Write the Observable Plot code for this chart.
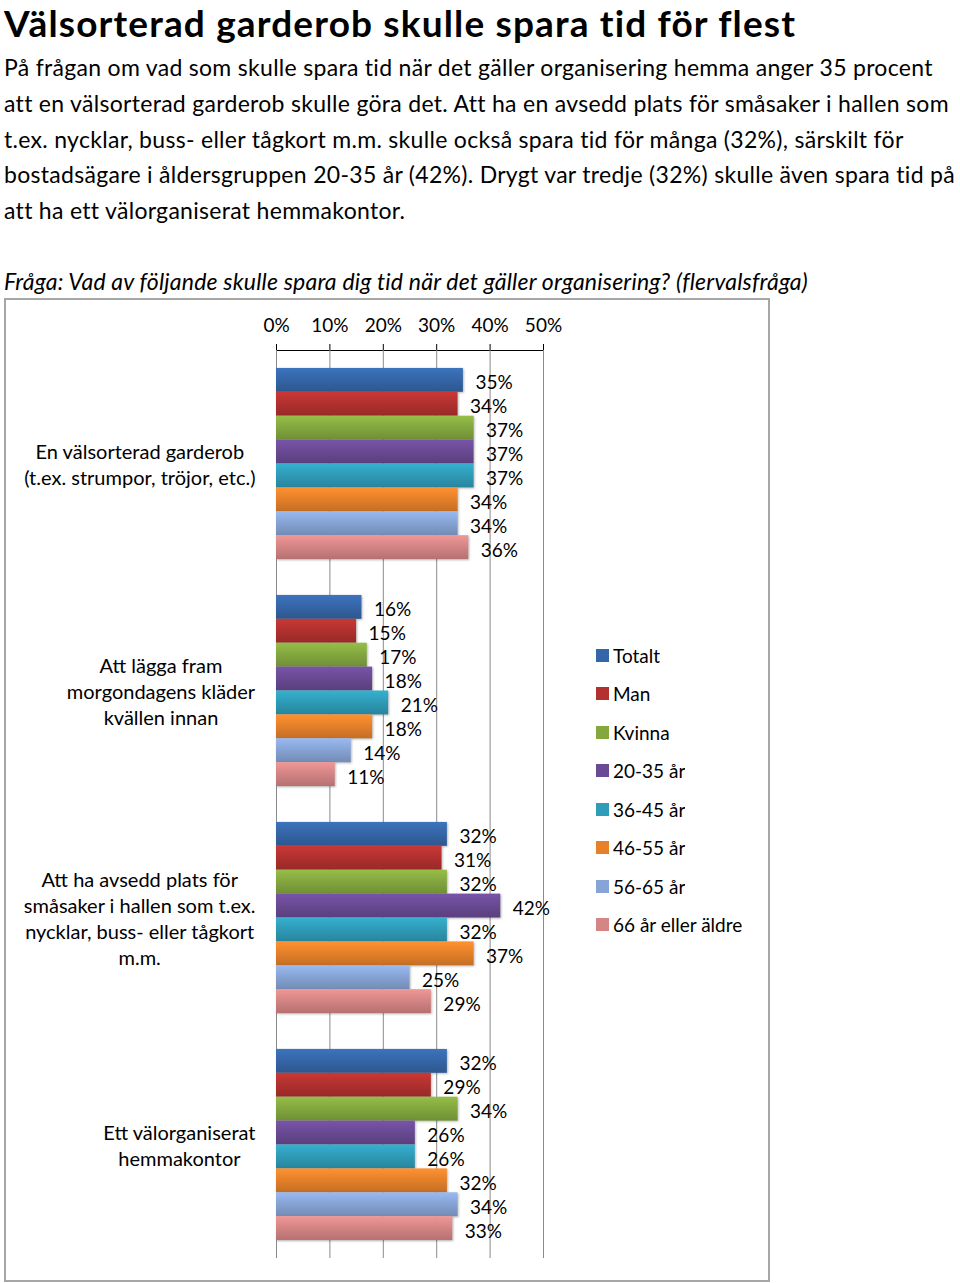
<!DOCTYPE html>
<html>
<head>
<meta charset="utf-8">
<script src="https://cdn.jsdelivr.net/npm/d3@7"></script>
<script src="https://cdn.jsdelivr.net/npm/@observablehq/plot@0.6"></script>
<style>
  html, body { margin: 0; padding: 0; background: #fff; }
  body { width: 960px; height: 1283px; position: relative; overflow: hidden; font-family: Lato, "Open Sans", sans-serif; color: #000; }
  .title { position: absolute; left: 4px; top: 0px; font-weight: 700; font-size: 37px; letter-spacing: 1.15px; line-height: 45px; white-space: nowrap; }
  .body { position: absolute; left: 4px; top: 50px; font-size: 23px; letter-spacing: 0.3px; line-height: 35.75px; white-space: nowrap; }
  .question { position: absolute; left: 4px; top: 263px; font-size: 23px; letter-spacing: 0.2px; line-height: 36px; font-style: italic; white-space: nowrap; }
  .frame { position: absolute; left: 4px; top: 298px; width: 766px; height: 984px; box-sizing: border-box; border: 2px solid #a6a6a6; }
  #chart { position: absolute; left: 0; top: 298px; }
  #legend { position: absolute; left: 596px; top: 636px; }
  .lg-swatches { font-family: Lato, sans-serif !important; font-size: 19px !important; margin: 0 !important; color: #000; }
  .lg-swatch { height: 38.5px; padding-bottom: 0 !important; display: flex; align-items: center; }
  .lg-swatch svg { margin-right: 4px !important; }
  #chart g[aria-label="bar"] rect { filter: drop-shadow(1.5px 1.5px 1px rgba(0,0,0,0.28)); }
</style>
</head>
<body>
<svg width="0" height="0" style="position:absolute"><defs id="gdefs"></defs></svg>
<div class="title">Välsorterad garderob skulle spara tid för flest</div>
<div class="body">På frågan om vad som skulle spara tid när det gäller organisering hemma anger 35 procent<br>att en välsorterad garderob skulle göra det. Att ha en avsedd plats för småsaker i hallen som<br>t.ex. nycklar, buss- eller tågkort m.m. skulle också spara tid för många (32%), särskilt för<br>bostadsägare i åldersgruppen 20-35 år (42%). Drygt var tredje (32%) skulle även spara tid på<br>att ha ett välorganiserat hemmakontor.</div>
<div class="question">Fråga: Vad av följande skulle spara dig tid när det gäller organisering? (flervalsfråga)</div>
<div class="frame"></div>
<div id="chart"></div>
<div id="legend"></div>
<script>
const categories = [
  "En välsorterad garderob\n(t.ex. strumpor, tröjor, etc.)",
  "Att lägga fram\nmorgondagens kläder\nkvällen innan",
  "Att ha avsedd plats för\nsmåsaker i hallen som t.ex.\nnycklar, buss- eller tågkort\nm.m.",
  "Ett välorganiserat\nhemmakontor"
];
const series = ["Totalt", "Man", "Kvinna", "20-35 år", "36-45 år", "46-55 år", "56-65 år", "66 år eller äldre"];
const colors = ["#3566a8", "#b2312f", "#84a83f", "#6a4a94", "#2f9cb8", "#e6812a", "#87a4d6", "#d58585"];
const valuesGarderob = [35, 34, 37, 37, 37, 34, 34, 36];
const valuesKlader = [16, 15, 17, 18, 21, 18, 14, 11];
const valuesHallen = [32, 31, 32, 42, 32, 37, 25, 29];
const valuesKontor = [32, 29, 34, 26, 26, 32, 34, 33];
const ticks = [0, 10, 20, 30, 40, 50];

const allValues = [valuesGarderob, valuesKlader, valuesHallen, valuesKontor];
const rows = [];
categories.forEach((c, ci) => series.forEach((s, si) => rows.push({category: c, series: s, value: allValues[ci][si]})));

// vertical gradients to imitate the shaded bars
const defs = d3.select("#gdefs");
colors.forEach((c, i) => {
  const g = defs.append("linearGradient").attr("id", "grad" + i).attr("x1", 0).attr("y1", 0).attr("x2", 0).attr("y2", 1);
  g.append("stop").attr("offset", "0%").attr("stop-color", d3.color(c).brighter(0.35).formatHex());
  g.append("stop").attr("offset", "45%").attr("stop-color", c);
  g.append("stop").attr("offset", "100%").attr("stop-color", d3.color(c).darker(0.45).formatHex());
});

const chart = Plot.plot({
  width: 770,
  height: 983,
  marginLeft: 276,
  marginRight: 227,
  marginTop: 52,
  marginBottom: 23,
  style: {fontFamily: "Lato, sans-serif", fontSize: "19px", color: "#000", background: "transparent", overflow: "visible"},
  facet: {data: rows, y: "category"},
  fy: {domain: categories, padding: 0, axis: null},
  x: {domain: [0, 50], axis: "top", ticks: ticks, tickFormat: d => d + "%", tickSize: 7, tickPadding: 12, line: true, label: null},
  y: {domain: series, axis: null, paddingInner: 0, paddingOuter: 0.75, round: false},
  color: {domain: series, range: series.map((s, i) => `url(#grad${i})`)},
  marks: [
    Plot.ruleX(ticks, {stroke: "#8a8a8a", strokeWidth: 1, strokeOpacity: 1}),
    Plot.barX(rows, {x: "value", y: "series", fill: "series"}),
    Plot.text(rows, {x: "value", y: "series", text: d => d.value + "%", dx: 12, dy: 3, textAnchor: "start", fill: "#000", fontSize: 19}),
    Plot.text(rows, {filter: d => d.series === series[0], text: "category", frameAnchor: "left", dx: -21, textAnchor: "middle", lineHeight: 1.3, fontSize: 20, fill: "#000"})
  ]
});
document.getElementById("chart").append(chart);

// shift each category label so its right edge sits just left of the axis
d3.select(chart).selectAll("text").each(function() {
  if (this.textContent.includes("%")) return;
  if (!this.querySelector("tspan") && this.closest("g[aria-label='x-axis tick label'], g[aria-label='x-axis']")) return;
  const w = this.getBBox().width;
  const t = this.getAttribute("transform") || "";
  this.setAttribute("transform", t + ` translate(${-w / 2},0)`);
});

const legend = Plot.legend({
  color: {domain: series, range: colors},
  columns: 1,
  swatchSize: 13,
  className: "lg",
  style: {fontFamily: "Lato, sans-serif", fontSize: "19px"}
});
document.getElementById("legend").append(legend);
</script>
</body>
</html>
